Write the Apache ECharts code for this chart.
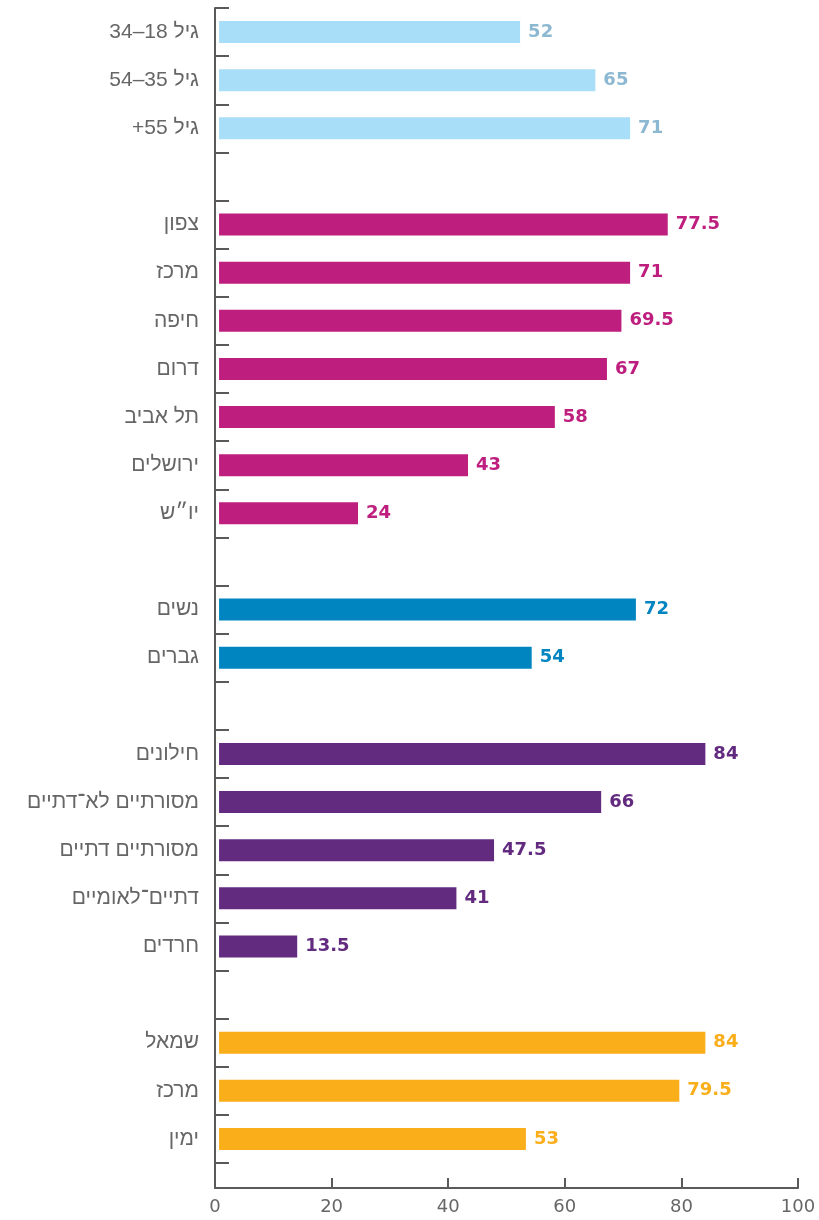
<!DOCTYPE html>
<html>
<head>
<meta charset="utf-8">
<script src="https://cdn.jsdelivr.net/npm/echarts@6/dist/echarts.min.js"></script>
<style>
html,body{margin:0;padding:0;background:#fff;}
#chart{width:819px;height:1220px;}
</style>
</head>
<body>
<div id="chart"></div>
<script>
// ---- data ----
const ageLabels = ['גיל 18–34', 'גיל 35–54', 'גיל 55+'];
const ageValues = [52, 65, 71];
const regionLabels = ['צפון', 'מרכז', 'חיפה', 'דרום', 'תל אביב', 'ירושלים', 'יו״ש'];
const regionValues = [77.5, 71, 69.5, 67, 58, 43, 24];
const genderLabels = ['נשים', 'גברים'];
const genderValues = [72, 54];
const religionLabels = ['חילונים', 'מסורתיים לא־דתיים', 'מסורתיים דתיים', 'דתיים־לאומיים', 'חרדים'];
const religionValues = [84, 66, 47.5, 41, 13.5];
const politicsLabels = ['שמאל', 'מרכז', 'ימין'];
const politicsValues = [84, 79.5, 53];
const xTicks = [0, 20, 40, 60, 80, 100];

const groups = [
  {labels: ageLabels, values: ageValues, color: '#a9def9', labelColor: '#8cb9d1'},
  {labels: regionLabels, values: regionValues, color: '#be1e7d', labelColor: '#be1e7d'},
  {labels: genderLabels, values: genderValues, color: '#0085c1', labelColor: '#0085c1'},
  {labels: religionLabels, values: religionValues, color: '#632b80', labelColor: '#632b80'},
  {labels: politicsLabels, values: politicsValues, color: '#f9ae1a', labelColor: '#f9ae1a'}
];

// build categories with blank separators
const categories = [];
const offsets = [];
groups.forEach((g, gi) => {
  if (gi > 0) categories.push('');
  offsets.push(categories.length);
  g.labels.forEach(l => categories.push(l));
});

const series = groups.map((g, gi) => {
  const data = categories.map(() => '-');
  g.values.forEach((v, i) => { data[offsets[gi] + i] = v; });
  return {
    type: 'bar',
    xAxisIndex: 0,
    yAxisIndex: 0,
    stack: 'all',
    barWidth: 22,
    data: data,
    itemStyle: {color: g.color},
    label: {
      show: true,
      position: 'right',
      distance: 8,
      color: g.labelColor,
      fontFamily: 'DejaVu Sans',
      fontWeight: 'bold',
      fontSize: 18
    },
    silent: true
  };
});

const axisColor = '#5a5a5a';
const chart = echarts.init(document.getElementById('chart'), null, {renderer: 'canvas'});
chart.setOption({
  animation: false,
  grid: [
    {left: 215, right: 21, top: 8, height: 1155, containLabel: false},
    {left: 215, right: 21, top: 8, bottom: 32, containLabel: false}
  ],
  xAxis: [
    {type: 'value', gridIndex: 0, min: -0.7, max: 100, show: false},
    {
      type: 'value', gridIndex: 1, min: 0, max: 100, interval: 20,
      axisLine: {show: true, lineStyle: {color: axisColor, width: 2}},
      axisTick: {show: true, inside: true, length: 10, lineStyle: {color: axisColor, width: 2}},
      axisLabel: {
        color: '#666', fontFamily: 'DejaVu Sans', fontSize: 18, margin: 10,
        formatter: v => (xTicks.indexOf(v) >= 0 ? String(v) : '')
      },
      splitLine: {show: false}
    }
  ],
  yAxis: [
    {
      type: 'category', gridIndex: 0, inverse: true, data: categories,
      axisLine: {show: false, onZero: false},
      axisTick: {show: true, inside: true, length: 14, interval: 0, lineStyle: {color: axisColor, width: 2}},
      axisLabel: {
        color: '#666', fontFamily: 'Liberation Sans', fontSize: 21, margin: 16, interval: 0,
        formatter: s => (s ? s + '\u200F' : '')
      }
    },
    {
      type: 'value', gridIndex: 1, min: 0, max: 1,
      axisLine: {show: true, onZero: false, lineStyle: {color: axisColor, width: 2}},
      axisTick: {show: false}, axisLabel: {show: false}, splitLine: {show: false}
    }
  ],
  series: series
});
</script>
</body>
</html>
